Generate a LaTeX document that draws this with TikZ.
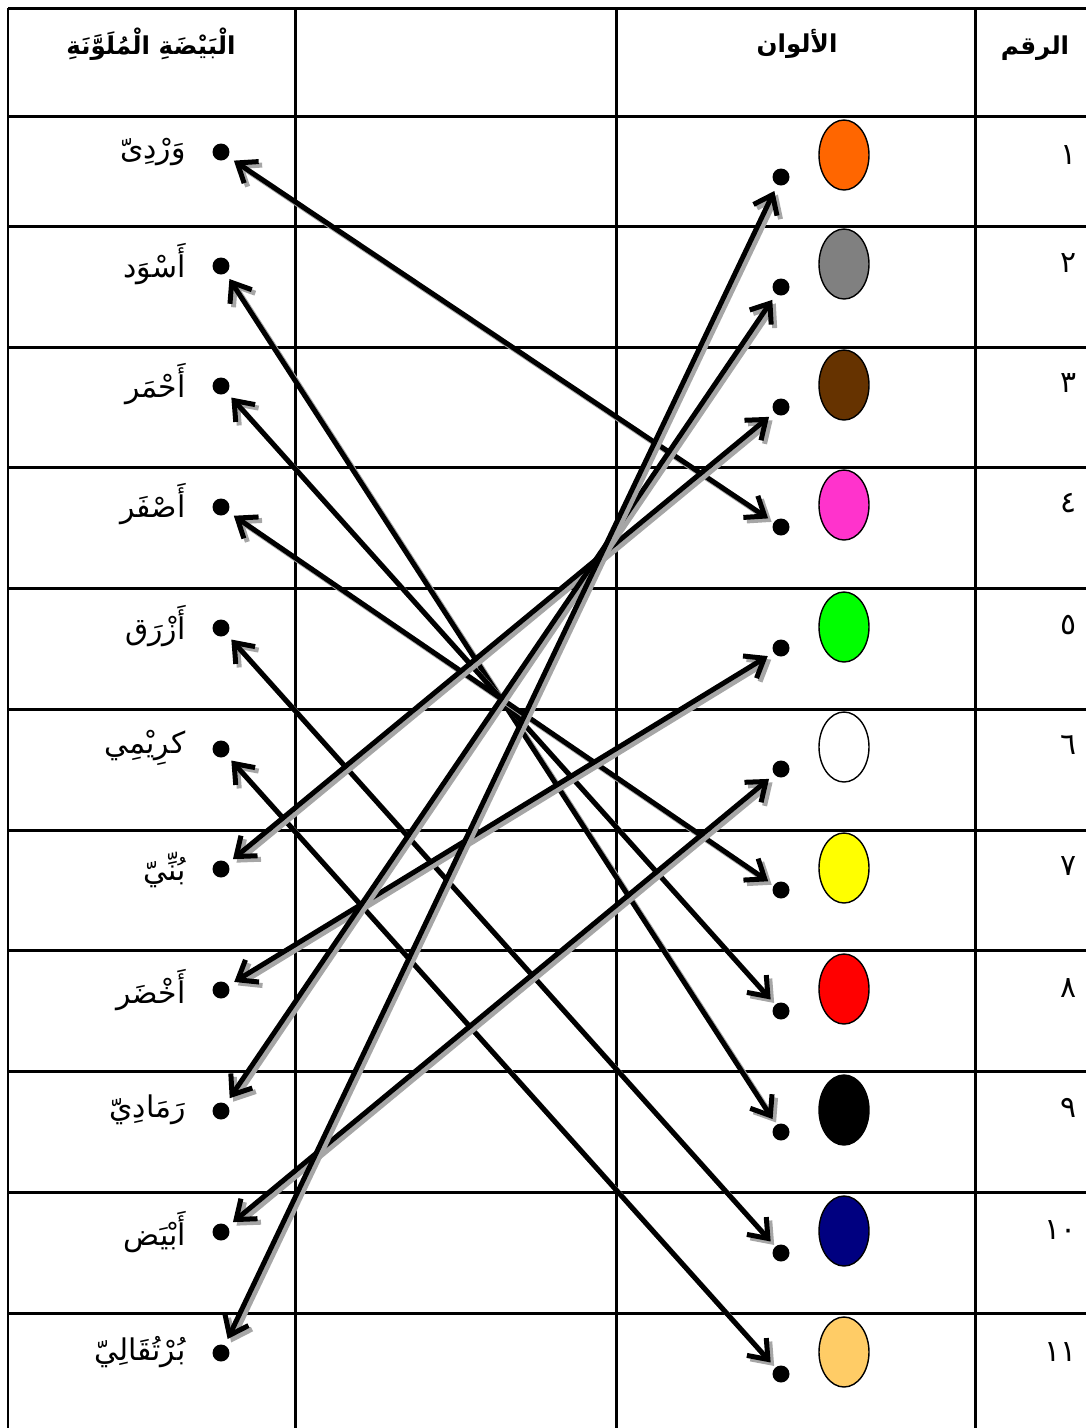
\documentclass[tikz,border=0pt]{standalone}
\usepackage{fontspec}
\newfontfamily\arabicfont[Script=Arabic]{DejaVu Sans}
\TeXXeTstate=1
\usetikzlibrary{arrows.meta,shapes.geometric}

\begin{document}
\begin{tikzpicture}[x=0.02cm, y=-0.02cm]
        \tikzset{dot/.style = {shape=circle, fill=black, inner sep=0pt, minimum size=0.34cm, outer sep=0.14cm},
                 egg/.style = {shape=ellipse, draw, line width=0.8pt, minimum width=1cm, minimum height=1.4cm},
                 word/.style = {font=\arabicfont\fontsize{17}{20}\selectfont, anchor=east, inner sep=0pt},
                 head/.style = {font=\arabicfont\bfseries\fontsize{14}{17}\selectfont, inner sep=0pt},
                 grid/.style = {line width=0.06cm},
                 link/.style = {line width=0.1cm, >={Straight Barb[length=0.34cm, width=0.52cm]}, <->,
                                preaction={draw=black!35, line width=0.1cm, <->,
                                           transform canvas={shift={(0.07cm,-0.07cm)}}}}}

        \useasboundingbox (0, 0) rectangle (1086, 1428);

        % table
        \draw[grid] (8, 8) -- (1086, 8);
        \draw[grid] (8, 116) -- (1086, 116);
        \draw[grid] (8, 226) -- (1086, 226);
        \draw[grid] (8, 347) -- (1086, 347);
        \draw[grid] (8, 467) -- (1086, 467);
        \draw[grid] (8, 588) -- (1086, 588);
        \draw[grid] (8, 709) -- (1086, 709);
        \draw[grid] (8, 830) -- (1086, 830);
        \draw[grid] (8, 950) -- (1086, 950);
        \draw[grid] (8, 1071) -- (1086, 1071);
        \draw[grid] (8, 1192) -- (1086, 1192);
        \draw[grid] (8, 1313) -- (1086, 1313);
        \draw[grid] (8, 8) -- (8, 1428);
        \draw[grid] (295, 8) -- (295, 1428);
        \draw[grid] (616, 8) -- (616, 1428);
        \draw[grid] (975, 8) -- (975, 1428);

        % headings
        \node[head] (h1) at (151, 44) {\beginR الْبَيْضَةِ الْمُلَوَّنَةِ\endR};
        \node[head] (h2) at (797, 44) {\beginR الألوان\endR};
        \node[head] (h3) at (1035, 48) {\beginR الرقم\endR};

        % words
        \node[word] (w1) at (186, 152) {وَرْدِىّ};
        \node[word] (w2) at (186, 264) {أَسْوَد};
        \node[word] (w3) at (186, 384) {أَحْمَر};
        \node[word] (w4) at (186, 504) {أَصْفَر};
        \node[word] (w5) at (186, 626) {أَزْرَق};
        \node[word] (w6) at (186, 748) {كرِيْمِي};
        \node[word] (w7) at (186, 870) {بُنِّيّ};
        \node[word] (w8) at (186, 990) {أَخْضَر};
        \node[word] (w9) at (186, 1110) {رَمَادِيّ};
        \node[word] (w10) at (186, 1232) {أَبْيَض};
        \node[word] (w11) at (186, 1352) {بُرْتُقَالِيّ};

        % numbers
        \node[word] (n1) at (1077, 155) {١};
        \node[word] (n2) at (1077, 263) {٢};
        \node[word] (n3) at (1077, 383) {٣};
        \node[word] (n4) at (1077, 503) {٤};
        \node[word] (n5) at (1077, 625) {٥};
        \node[word] (n6) at (1077, 745) {٦};
        \node[word] (n7) at (1077, 866) {٧};
        \node[word] (n8) at (1077, 988) {٨};
        \node[word] (n9) at (1077, 1108) {٩};
        \node[word] (n10) at (1077, 1230) {١٠};
        \node[word] (n11) at (1077, 1352) {١١};

        % colours
        \node[egg, fill={rgb,255:red,255;green,102;blue,0}] (c1) at (844, 155) {};
        \node[egg, fill={rgb,255:red,128;green,128;blue,128}] (c2) at (844, 264) {};
        \node[egg, fill={rgb,255:red,102;green,51;blue,0}] (c3) at (844, 385) {};
        \node[egg, fill={rgb,255:red,255;green,51;blue,204}] (c4) at (844, 505) {};
        \node[egg, fill={rgb,255:red,0;green,255;blue,0}] (c5) at (844, 627) {};
        \node[egg, fill=white] (c6) at (844, 747) {};
        \node[egg, fill={rgb,255:red,255;green,255;blue,0}] (c7) at (844, 868) {};
        \node[egg, fill={rgb,255:red,255;green,0;blue,0}] (c8) at (844, 989) {};
        \node[egg, fill=black] (c9) at (844, 1110) {};
        \node[egg, fill={rgb,255:red,0;green,0;blue,128}] (c10) at (844, 1231) {};
        \node[egg, fill={rgb,255:red,255;green,204;blue,102}] (c11) at (844, 1352) {};

        % dots
        \node[dot] (l1) at (221, 152) {};
        \node[dot] (l2) at (221, 266) {};
        \node[dot] (l3) at (221, 386) {};
        \node[dot] (l4) at (221, 507) {};
        \node[dot] (l5) at (221, 628) {};
        \node[dot] (l6) at (221, 749) {};
        \node[dot] (l7) at (221, 869) {};
        \node[dot] (l8) at (221, 990) {};
        \node[dot] (l9) at (221, 1111) {};
        \node[dot] (l10) at (221, 1232) {};
        \node[dot] (l11) at (221, 1353) {};

        \node[dot] (r1) at (781, 177) {};
        \node[dot] (r2) at (781, 287) {};
        \node[dot] (r3) at (781, 407) {};
        \node[dot] (r4) at (781, 527) {};
        \node[dot] (r5) at (781, 648) {};
        \node[dot] (r6) at (781, 769) {};
        \node[dot] (r7) at (781, 890) {};
        \node[dot] (r8) at (781, 1011) {};
        \node[dot] (r9) at (781, 1132) {};
        \node[dot] (r10) at (781, 1253) {};
        \node[dot] (r11) at (781, 1374) {};

        % answers
        \draw[link] (l1) -- (r4);
        \draw[link] (l2) -- (r9);
        \draw[link] (l3) -- (r8);
        \draw[link] (l4) -- (r7);
        \draw[link] (l5) -- (r10);
        \draw[link] (l6) -- (r11);
        \draw[link] (l7) -- (r3);
        \draw[link] (l8) -- (r5);
        \draw[link] (l9) -- (r2);
        \draw[link] (l10) -- (r6);
        \draw[link] (l11) -- (r1);

    \end{tikzpicture}
\end{document}
